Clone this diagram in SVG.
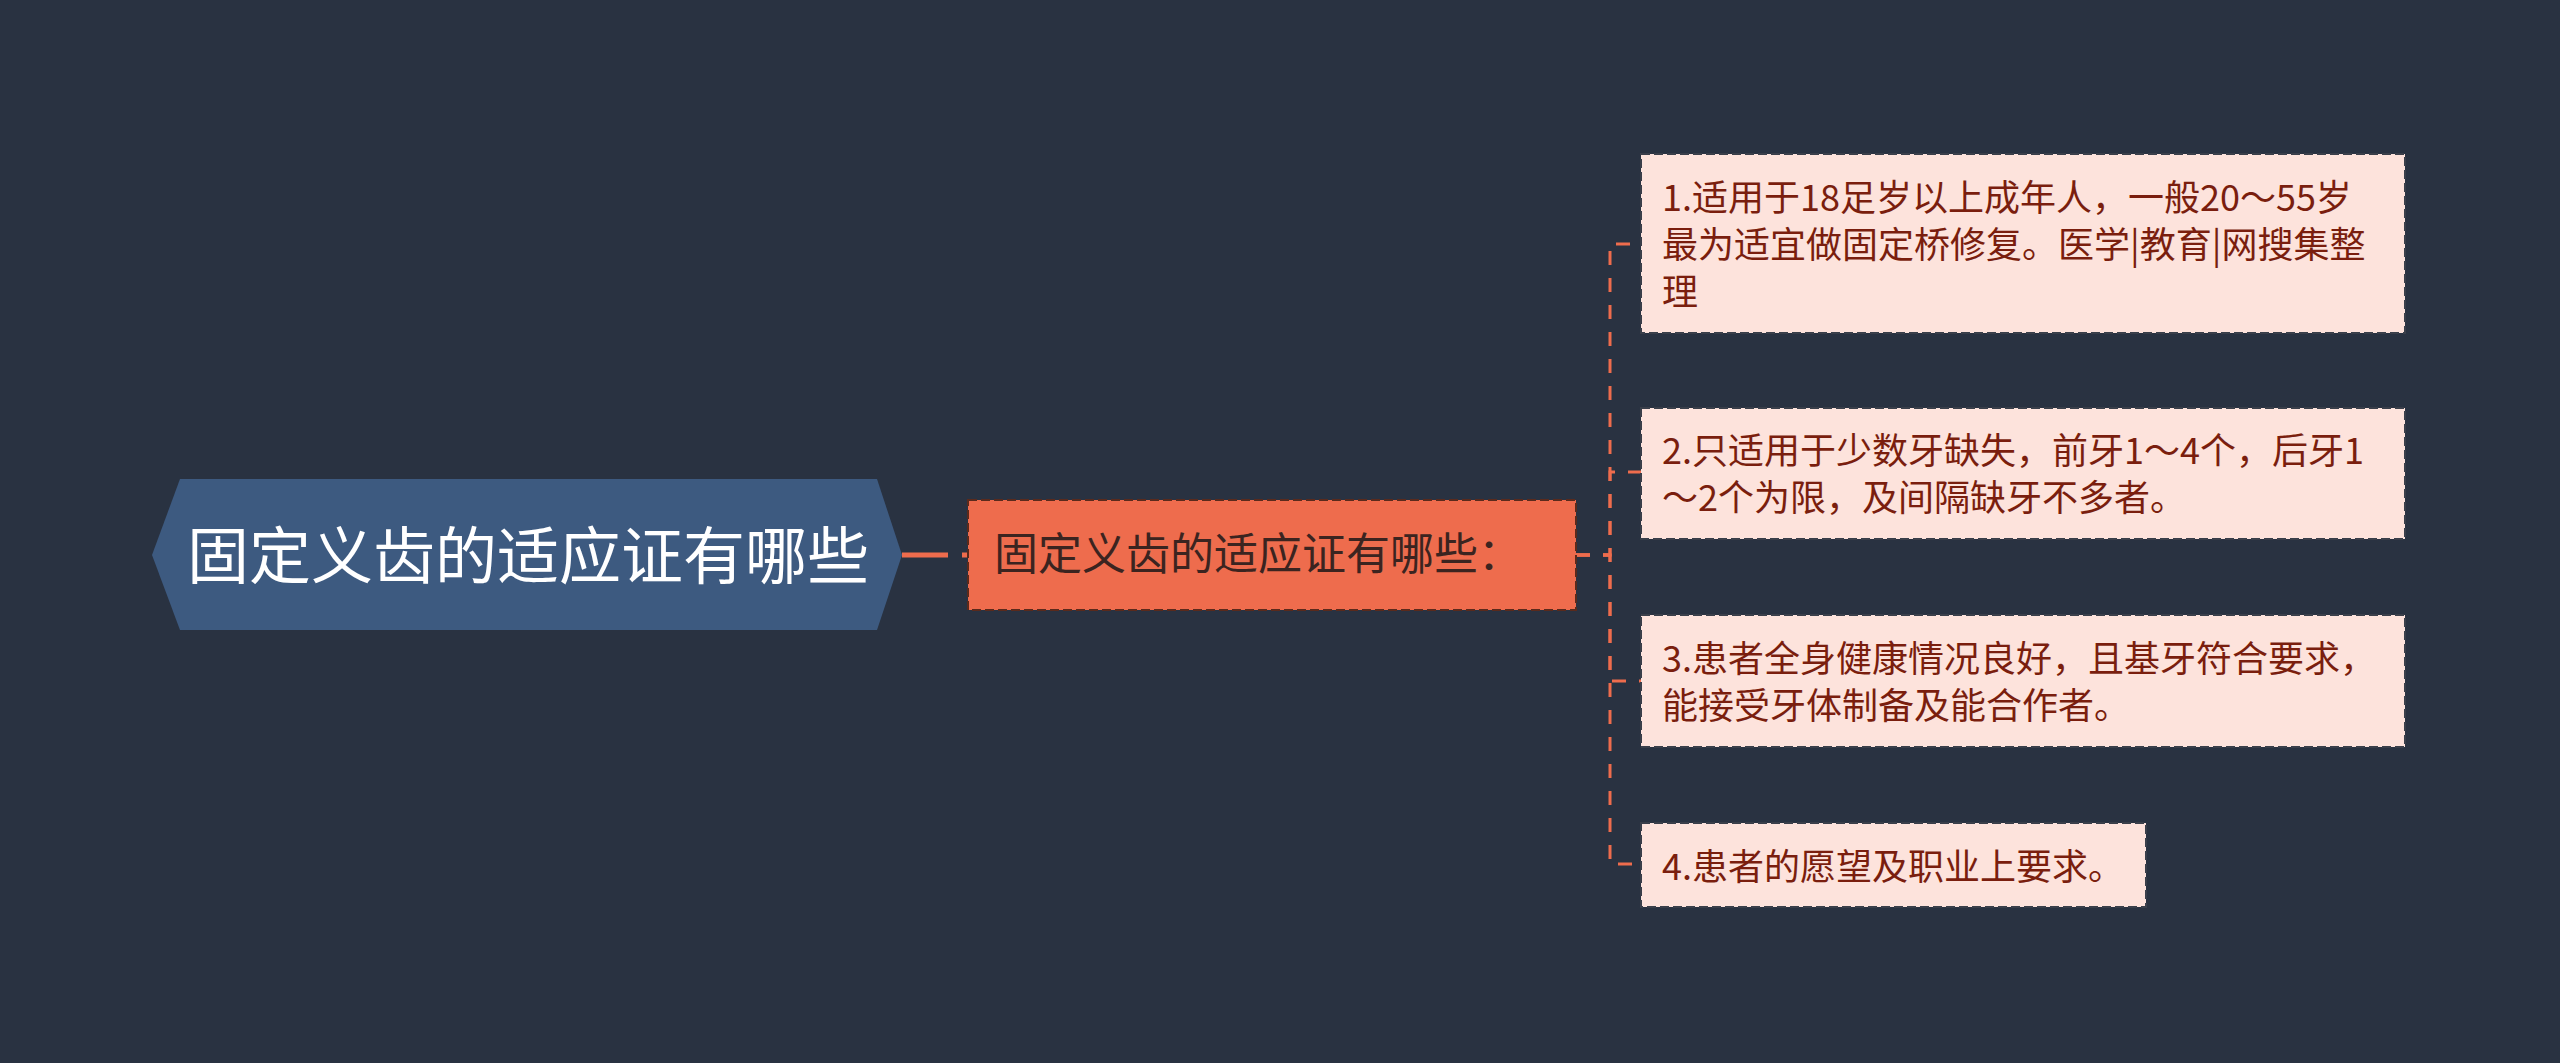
<svg xmlns="http://www.w3.org/2000/svg" width="2560" height="1063" viewBox="0 0 2560 1063">
<style>
.cjk{font-family:"Noto Sans CJK SC","Microsoft YaHei",sans-serif;}
.child rect{fill:#fde3dc;stroke:#3a3f4a;stroke-width:2;stroke-dasharray:9 4;}
.child text{fill:#7a1e0e;font-size:36px;}
.conn{fill:none;stroke:#ee6c4d;stroke-width:3;stroke-dasharray:14 13;}
</style>
<rect x="0" y="0" width="2560" height="1063" fill="#293241"/>
<g id="connectors">
<path d="M902,555 H968" fill="none" stroke="#ee6c4d" stroke-width="5" stroke-dasharray="46 14"/>
<path class="conn" d="M1576,555 H1610 V244 H1641"/>
<path class="conn" d="M1576,555 H1610 V472 H1641"/>
<path class="conn" d="M1576,555 H1610 V681 H1641"/>
<path class="conn" d="M1576,555 H1610 V864 H1641"/>
</g>
<g id="root">
<path d="M152,555 L180,479 L877,479 L902,555 L877,630 L180,630 Z" fill="#3d5a80"/>
<text class="cjk" x="528" y="579" text-anchor="middle" font-size="62" fill="#ffffff">固定义齿的适应证有哪些</text>
</g>
<g id="main">
<rect x="968" y="500" width="608" height="110" fill="#ee6c4d" stroke="#5a2a1c" stroke-width="2" stroke-dasharray="9 4"/>
<text class="cjk" x="994" y="570" font-size="44" fill="#3b2420">固定义齿的适应证有哪些：</text>
</g>
<g id="child1" class="child">
<rect x="1641" y="154" width="764" height="179"/>
<text class="cjk" x="1662" y="211">1.适用于18足岁以上成年人，一般20～55岁</text>
<text class="cjk" x="1662" y="258">最为适宜做固定桥修复。医学|教育|网搜集整</text>
<text class="cjk" x="1662" y="305">理</text>
</g>
<g id="child2" class="child">
<rect x="1641" y="408" width="764" height="131"/>
<text class="cjk" x="1662" y="464">2.只适用于少数牙缺失，前牙1～4个，后牙1</text>
<text class="cjk" x="1662" y="511">～2个为限，及间隔缺牙不多者。</text>
</g>
<g id="child3" class="child">
<rect x="1641" y="615" width="764" height="132"/>
<text class="cjk" x="1662" y="672">3.患者全身健康情况良好，且基牙符合要求，</text>
<text class="cjk" x="1662" y="719">能接受牙体制备及能合作者。</text>
</g>
<g id="child4" class="child">
<rect x="1641" y="823" width="505" height="84"/>
<text class="cjk" x="1662" y="880">4.患者的愿望及职业上要求。</text>
</g>
</svg>
